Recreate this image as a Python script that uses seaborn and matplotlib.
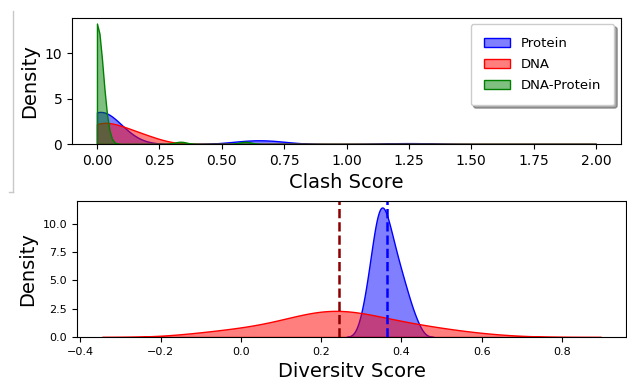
import numpy as np
import matplotlib
matplotlib.use("Agg")
import matplotlib.pyplot as plt
import seaborn as sns
from matplotlib.lines import Line2D
from matplotlib.ticker import MultipleLocator

# ---------------- data ----------------
# Top panel: clash scores (values with weights; values > 2 lie outside the clipped view)
clash_protein_values = [0.0, 0.05, 0.60, 0.70, 1.20, 1.30, 4.0]
clash_protein_weights = [0.52, 0.22, 0.05, 0.05, 0.012, 0.012, 0.136]
clash_dna_values = [0.0, 0.10, 0.20, 2.5, 5.0]
clash_dna_weights = [0.31, 0.20, 0.10, 0.19, 0.20]
clash_dnaprot_values = [0.0, 0.335, 0.595, 3.0, 6.0]
clash_dnaprot_weights = [0.80, 0.015, 0.015, 0.09, 0.08]
clash_bandwidths = [0.08, 0.07, 0.024]
clash_labels = ["Protein", "DNA", "DNA-Protein"]

# Bottom panel: diversity scores
div_protein_values = [0.308, 0.325, 0.34, 0.355, 0.37, 0.385, 0.40, 0.415, 0.435]
div_protein_weights = [0.06, 0.12, 0.20, 0.21, 0.16, 0.13, 0.09, 0.075, 0.04]
div_dna_values = [-0.076, 0.02, 0.12, 0.22, 0.32, 0.42, 0.52, 0.627]
div_dna_weights = [0.06, 0.08, 0.16, 0.33, 0.21, 0.125, 0.075, 0.02]
div_bandwidths = [0.015, 0.09]

colors = ["blue", "red", "green"]


def kde_params(values, weights, h):
    """bandwidth factor for a kernel of width h, and the cut that makes the
    evaluation grid reach 3 kernel widths beyond the data."""
    v = np.asarray(values, float)
    w = np.asarray(weights, float)
    std_w = np.sqrt(np.cov(v, aweights=w))
    std_u = np.std(v, ddof=1)
    factor = h / std_w
    cut = 3 * h / (factor * std_u)
    return float(factor), float(cut)


fig = plt.figure(figsize=(6.27, 3.77), dpi=100)
W, H = 627.0, 377.0
ax1 = fig.add_axes([72 / W, 1 - 144 / H, 549 / W, 126.5 / H])
ax2 = fig.add_axes([77 / W, 1 - 337 / H, 549 / W, 136 / H])

# ---- top: clash score ----
top_sets = [
    (clash_protein_values, clash_protein_weights),
    (clash_dna_values, clash_dna_weights),
    (clash_dnaprot_values, clash_dnaprot_weights),
]
for (vals, wts), h, lab, col in zip(top_sets, clash_bandwidths, clash_labels, colors):
    f, c = kde_params(vals, wts, h)
    sns.kdeplot(x=vals, weights=wts, bw_method=f, cut=c, clip=(0, 2),
                fill=True, color=col, alpha=0.5, linewidth=1.0, label=lab, ax=ax1)

ax1.set_xlabel("Clash Score", fontsize=14)
ax1.set_ylabel("Density", fontsize=14)
ax1.tick_params(labelsize=10)
ax1.legend(loc="upper right", fontsize=9.5, shadow=True, borderpad=1.0, labelspacing=0.6)

# ---- bottom: diversity score ----
bottom_sets = [
    (div_protein_values, div_protein_weights),
    (div_dna_values, div_dna_weights),
]
for (vals, wts), h, col in zip(bottom_sets, div_bandwidths, colors[:2]):
    f, c = kde_params(vals, wts, h)
    sns.kdeplot(x=vals, weights=wts, bw_method=f, cut=c,
                fill=True, color=col, alpha=0.5, linewidth=1.0, ax=ax2)

ax2.axvline(np.average(div_dna_values, weights=div_dna_weights), color="darkred",
            linestyle="--", linewidth=1.8)
ax2.axvline(np.average(div_protein_values, weights=div_protein_weights), color="blue",
            linestyle="--", linewidth=1.8)
ax2.set_xlabel("Diversity Score", fontsize=14)
ax2.set_ylabel("Density", fontsize=14)
ax2.tick_params(labelsize=8)
ax2.yaxis.set_major_locator(MultipleLocator(2.5))

# thin grey bracket at the left edge of the picture
fig.add_artist(Line2D([13 / W, 13 / W], [1 - 11 / H, 1 - 192 / H], color="#c8c8c8",
                      linewidth=1, transform=fig.transFigure))
fig.add_artist(Line2D([9 / W, 13 / W], [1 - 192 / H, 1 - 192 / H], color="#c8c8c8",
                      linewidth=1, transform=fig.transFigure))

fig.savefig("out.png", dpi=100)
